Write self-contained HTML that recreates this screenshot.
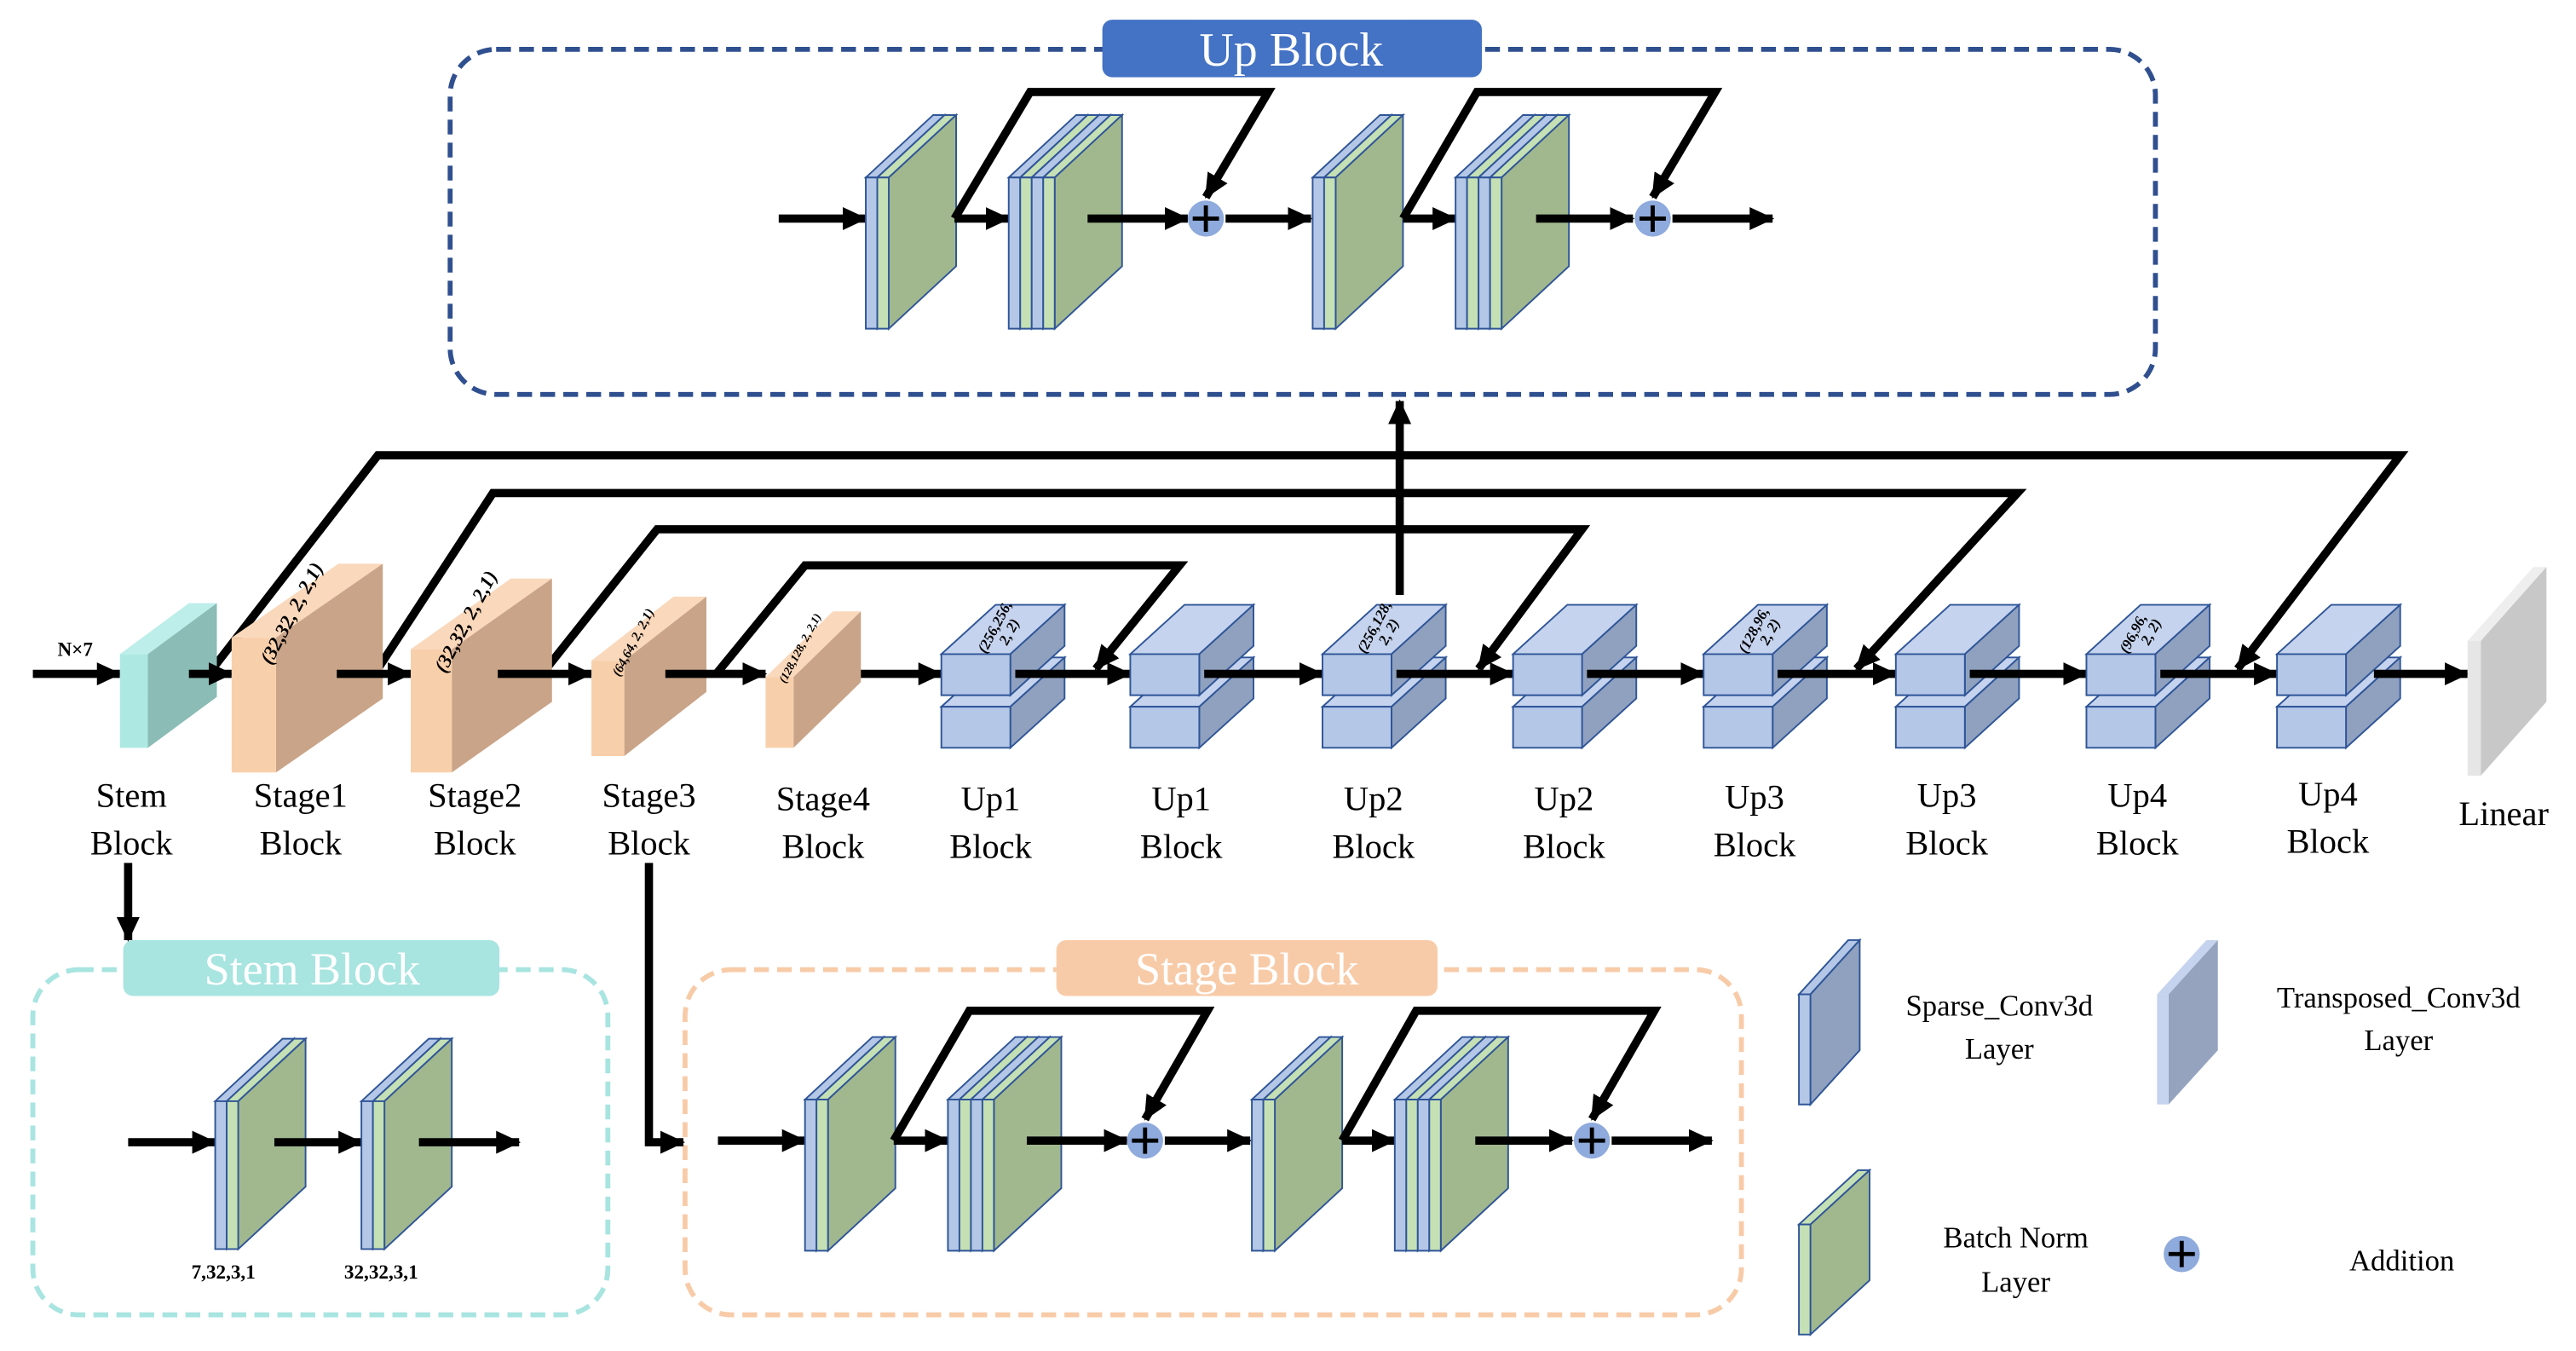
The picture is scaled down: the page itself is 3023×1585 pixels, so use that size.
<!DOCTYPE html>
<html><head><meta charset="utf-8"><style>
html,body{margin:0;padding:0;background:#fff;overflow:hidden;}
svg{display:block;}
text{font-family:"Liberation Serif",serif;fill:#000;}
</style></head><body>
<svg id="s" width="3023" height="1585" viewBox="0 0 1568 822" preserveAspectRatio="none" xmlns="http://www.w3.org/2000/svg">
<defs>
<marker id="ah" markerUnits="userSpaceOnUse" markerWidth="16" markerHeight="16" refX="14" refY="8" orient="auto"><path d="M0,1 L15,8 L0,15 Z" fill="#000"/></marker>
</defs>
<rect width="1568" height="822" fill="#fff"/>
<rect x="274" y="30" width="1038" height="210" rx="28" fill="none" stroke="#2f4f8f" stroke-width="3" stroke-dasharray="9,5"/>
<rect x="20" y="590" width="350" height="210" rx="28" fill="none" stroke="#a8e4e0" stroke-width="3" stroke-dasharray="9,5"/>
<rect x="417" y="590" width="643" height="210" rx="28" fill="none" stroke="#f8cba8" stroke-width="3" stroke-dasharray="9,5"/>
<rect x="671" y="12" width="231" height="35" rx="6" fill="#4472c4"/>
<text x="786" y="40" font-size="29" text-anchor="middle" style="fill:#fff">Up Block</text>
<rect x="75" y="572" width="229" height="34" rx="6" fill="#a8e4e0"/>
<text x="190" y="599" font-size="28" text-anchor="middle" style="fill:#fff">Stem Block</text>
<rect x="643" y="572" width="232" height="34" rx="6" fill="#f8cba8"/>
<text x="759" y="599" font-size="28" text-anchor="middle" style="fill:#fff">Stage Block</text>
<g id="g"></g>
<g font-size="21" text-anchor="middle">
<text x="80" y="491">Stem</text><text x="80" y="520">Block</text>
<text x="183" y="491">Stage1</text><text x="183" y="520">Block</text>
<text x="289" y="491">Stage2</text><text x="289" y="520">Block</text>
<text x="395" y="491">Stage3</text><text x="395" y="520">Block</text>
<text x="501" y="493">Stage4</text><text x="501" y="522">Block</text>
<text x="603" y="493">Up1</text><text x="603" y="522">Block</text>
<text x="719" y="493">Up1</text><text x="719" y="522">Block</text>
<text x="836" y="493">Up2</text><text x="836" y="522">Block</text>
<text x="952" y="493">Up2</text><text x="952" y="522">Block</text>
<text x="1068" y="492">Up3</text><text x="1068" y="521">Block</text>
<text x="1185" y="491">Up3</text><text x="1185" y="520">Block</text>
<text x="1301" y="491">Up4</text><text x="1301" y="520">Block</text>
<text x="1417" y="490">Up4</text><text x="1417" y="519">Block</text>
<text x="1524" y="502">Linear</text>
</g>
<text x="35" y="399" font-size="12" font-weight="bold">N×7</text>
<g font-size="12" font-weight="bold" font-style="italic">
<text transform="translate(165,405) rotate(-62)">(32,32, 2, 2,1)</text>
<text transform="translate(271,410) rotate(-62)">(32,32, 2, 2,1)</text>
<text transform="translate(377,412) rotate(-62)" font-size="8">(64,64, 2, 2,1)</text>
<text transform="translate(478,416) rotate(-62)" font-size="7">(128,128, 2, 2,1)</text>
<text transform="translate(600,398) rotate(-62)" font-size="9">(256,256,</text><text transform="translate(613,393) rotate(-62)" font-size="9">2, 2)</text>
<text transform="translate(831,398) rotate(-62)" font-size="9">(256,128,</text><text transform="translate(844,393) rotate(-62)" font-size="9">2, 2)</text>
<text transform="translate(1063,398) rotate(-62)" font-size="9">(128,96,</text><text transform="translate(1076,393) rotate(-62)" font-size="9">2, 2)</text>
<text transform="translate(1295,398) rotate(-62)" font-size="9">(96,96,</text><text transform="translate(1308,393) rotate(-62)" font-size="9">2, 2)</text>
</g>
<g font-size="12" font-weight="bold" text-anchor="middle">
<text x="136" y="778">7,32,3,1</text><text x="232" y="778">32,32,3,1</text>
</g>
<g font-size="18" text-anchor="middle">
<text x="1217" y="618">Sparse_Conv3d</text><text x="1217" y="644">Layer</text>
<text x="1460" y="613">Transposed_Conv3d</text><text x="1460" y="639">Layer</text>
<text x="1227" y="759">Batch Norm</text><text x="1227" y="786">Layer</text>
<text x="1462" y="773">Addition</text>
</g>
</svg>
<script>
var g=document.getElementById('g'),NS='http://www.w3.org/2000/svg';
function el(t,a){var e=document.createElementNS(NS,t);for(var k in a)e.setAttribute(k,a[k]);g.appendChild(e);return e;}
function poly(p,f,s,sw){el('polygon',{points:p.map(function(q){return q.join(',')}).join(' '),fill:f,stroke:s||'none','stroke-width':sw||1});}
function slab(x,y,w,h,dx,dy,front,top,side,st){
 poly([[x,y],[x+dx,y+dy],[x+w+dx,y+dy],[x+w,y]],top,st);
 poly([[x+w,y],[x+w+dx,y+dy],[x+w+dx,y+h+dy],[x+w,y+h]],side,st);
 poly([[x,y],[x+w,y],[x+w,y+h],[x,y+h]],front,st);
}
function line(pts,arrow){var a={points:pts.map(function(q){return q.join(',')}).join(' '),fill:'none',stroke:'#000','stroke-width':5,'stroke-linejoin':'miter'};if(arrow)a['marker-end']='url(#ah)';el('polyline',a);}
var B='#b4c7e7',G='#c5e0b4',GS='#a1b88f',ST='#2f5597';
function layer(x,y,h,n,dx,dy){
 var cols=[];for(var i=0;i<n;i++){cols.push(B);cols.push(G);}
 for(var i=0;i<cols.length;i++){
  var last=i==cols.length-1;
  slab(x+i*7,y,7,h,dx,dy,cols[i],cols[i],last?GS:cols[i],ST);
 }
}
function plus(cx,cy){el('circle',{cx:cx,cy:cy,r:11,fill:'#8faadc'});el('path',{d:'M'+(cx-8)+','+cy+'h16M'+cx+','+(cy-8)+'v16',stroke:'#000','stroke-width':2.5});}
function block(ox,cy,upper){
 var y=cy-25,h=92,dx=41,dy=-38;
 line([[ox-53,cy],[ox,cy]],1);
 layer(ox,y,h,1,dx,dy);
 line([[ox+54,cy],[ox+87,cy]],1);
 line([[ox+54,cy],[ox+100,upper],[ox+245,upper],[ox+207,cy-13]],1);
 layer(ox+87,y,h,2,dx,dy);
 line([[ox+135,cy],[ox+196,cy]],1);
 plus(ox+207,cy);
 line([[ox+219,cy],[ox+271,cy]],1);
 layer(ox+272,y,h,1,dx,dy);
 line([[ox+327,cy],[ox+359,cy]],1);
 line([[ox+327,cy],[ox+372,upper],[ox+517,upper],[ox+479,cy-13]],1);
 layer(ox+359,y,h,2,dx,dy);
 line([[ox+408,cy],[ox+467,cy]],1);
 plus(ox+479,cy);
 line([[ox+491,cy],[ox+552,cy]],1);
}
block(527,133,56);
block(490,694,615);
line([[78,695],[131,695]],1);layer(131,670,90,1,41,-38);
line([[167,695],[220,695]],1);layer(220,670,90,1,41,-38);
line([[255,695],[316,695]],1);
line([[127,410],[230,277],[1461,277],[1362,407]],1);
line([[228,410],[300,300],[1228,300],[1130,407]],1);
line([[330,410],[400,322],[963,322],[900,407]],1);
line([[436,410],[490,344],[718,344],[667,407]],1);
line([[20,410],[73,410]],1);
slab(73,398,17,57,42,-31,'#aee8e3','#bdeeea','#8bbcb6','none');
line([[115,410],[141,410]],1);
slab(141,388,27,82,65,-45,'#f8cfab','#fad8bb','#c9a488','none');
line([[205,410],[250,410]],1);
slab(250,395,25,75,61,-43,'#f8cfab','#fad8bb','#c9a488','none');
line([[303,410],[360,410]],1);
slab(360,402,20,58,50,-39,'#f8cfab','#fad8bb','#c9a488','none');
line([[405,410],[466,410]],1);
slab(466,412,17,43,41,-40,'#f8cfab','#fad8bb','#c9a488','none');
line([[524,410],[573,410]],1);
var ups=[573,688,805,921,1037,1154,1270,1386];
for(var i=0;i<ups.length;i++){
 var x=ups[i];
 slab(x,430,42,25,33,-30,B,'#c5d3ee','#8fa1bf',ST);
 slab(x,398,42,25,33,-30,B,'#c5d3ee','#8fa1bf',ST);
 if(i<ups.length-1) line([[x+45,410],[ups[i+1],410]],1);
}
line([[1445,410],[1502,410]],1);
slab(1502,390,8,82,40,-45,'#e6e6e6','#eeeeee','#c8c8c8','none');
line([[852,362],[852,244]],1);
line([[78,525],[78,572]],1);
line([[395,525],[395,695],[416,695]],1);
slab(1095,605,7,67,30,-33,B,B,'#8fa1bf',ST);
slab(1313,605,7,67,30,-33,'#c5d3ee','#c5d3ee','#95a3bf','none');
slab(1095,745,7,67,36,-33,G,G,GS,ST);
plus(1328,763);
</script>
</body></html>
